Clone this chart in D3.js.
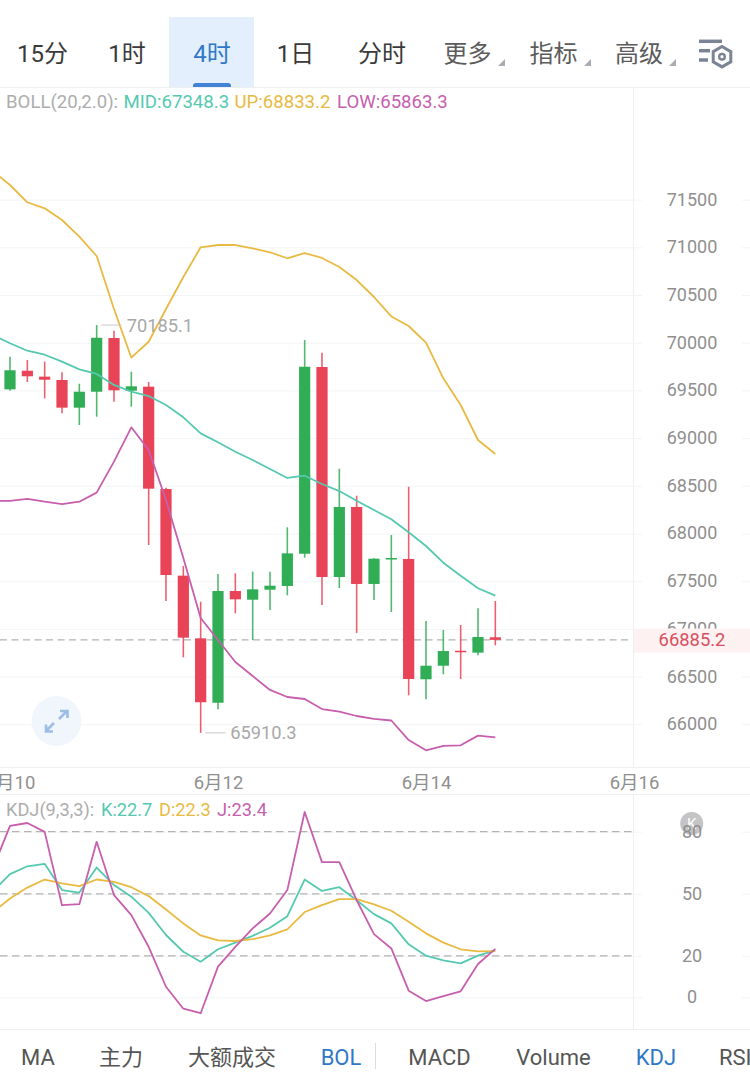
<!DOCTYPE html>
<html>
<head>
<meta charset="utf-8">
<style>
	html, body { margin: 0; padding: 0; background: #fff; }
	svg { display: block; }
	text { font-family: Roboto, "Noto Sans CJK SC", sans-serif; }
</style>
</head>
<body>
<div id="box"></div>
<script src="https://cdn.jsdelivr.net/npm/d3@7/dist/d3.min.js"></script>
<script>
// candles, 4h, index 0 = 6月10
const open = [69511, 69706, 69644, 69609, 69319, 69486, 70049, 69497, 69539, 68466, 67558, 66901, 66226, 67397, 67306, 67411, 67450, 67788, 69745, 67544, 68278, 67471, 67730, 67733, 66472, 66614, 66771, 66751, 66912];
const close = [69711, 69648, 69612, 69319, 69486, 70052, 69501, 69543, 68470, 67565, 66908, 66231, 67397, 67310, 67415, 67453, 67792, 69748, 67544, 68278, 67471, 67736, 67743, 66475, 66614, 66768, 66758, 66915, 66885.2];
const high = [69853, 69819, 69801, 69690, 69570, 70185.1, 70126, 69696, 69588, 68480, 67659, 67285, 67575, 67583, 67600, 67600, 68065, 70028, 69895, 68679, 68396, 67740, 67984, 68490, 67083, 66988, 67041, 67216, 67292];
const low = [69497, 69588, 69417, 69260, 69137, 69224, 69382, 69329, 67879, 67292, 66702, 65910.3, 66157, 67163, 66884, 67198, 67352, 67746, 67250, 67429, 66957, 67303, 67177, 66304, 66262, 66524, 66475, 66723, 66828];

// indicator series start one candle before the left edge (index -1)
const bollUp = [71800, 71653, 71472, 71409, 71286, 71111, 70909, 70353, 69843, 70010, 70353, 70689, 71000, 71024, 71024, 70989, 70948, 70885, 70940, 70888, 70793, 70657, 70479, 70275, 70175, 70000, 69627, 69347, 68980, 68833.2];
const bollMid = [70081, 69994, 69916, 69874, 69801, 69721, 69672, 69557, 69486, 69441, 69347, 69218, 69050, 68956, 68857, 68770, 68676, 68582, 68606, 68519, 68445, 68344, 68246, 68149, 68013, 67869, 67694, 67558, 67426, 67348.3];
const bollLow = [68341, 68341, 68362, 68333, 68309, 68333, 68428, 68753, 69113, 68875, 68351, 67743, 67114, 66884, 66653, 66506, 66360, 66286, 66265, 66160, 66134, 66087, 66056, 66040, 65835, 65727, 65773, 65780, 65881, 65863.3];

const kdjK = [51, 59.5, 63.3, 64.5, 51.8, 50.6, 62.7, 54.2, 48.6, 40.8, 30.1, 22, 17.2, 23.2, 26.4, 29.7, 33.6, 39.2, 56.9, 51.4, 53.2, 46.9, 40.2, 35.7, 25.6, 20.1, 17.8, 16.4, 20.1, 22.7];
const kdjD = [41, 47.7, 53, 56.9, 55, 53.7, 56.9, 55.8, 53.2, 48.9, 42.4, 35.7, 29.9, 27.5, 27.2, 28.1, 29.9, 32.8, 41.2, 44.5, 47.4, 47.4, 44.9, 41.8, 36.5, 30.9, 26.4, 23.2, 22.2, 22.3];
const kdjJ = [62, 82.8, 84.2, 79.9, 44.5, 45, 75.1, 49.4, 39.7, 24.4, 5.1, -5.5, -7.7, 14.8, 24.4, 33.3, 40.5, 51.8, 89.5, 65.3, 65.3, 46.9, 30.5, 23.6, 3.2, -1.8, 0.6, 2.9, 16.1, 23.4];

const priceTicks = [66000, 66500, 67000, 67500, 68000, 68500, 69000, 69500, 70000, 70500, 71000, 71500];
const kdjTicks = [0, 20, 50, 80];
const kdjDashed = [20, 50, 80];
const dateIndex = [0, 12, 24, 36];
const dateLabels = ['6月10', '6月12', '6月14', '6月16'];
const lastPrice = 66885.2;

const topTabs = ['15分', '1时', '4时', '1日', '分时', '更多', '指标', '高级'];
const bottomTabs = ['MA', '主力', '大额成交', 'BOL', 'MACD', 'Volume', 'KDJ', 'RSI'];
const bollLegend = ['BOLL(20,2.0):', 'MID:67348.3', 'UP:68833.2', 'LOW:65863.3'];
const kdjLegend = ['KDJ(9,3,3):', 'K:22.7', 'D:22.3', 'J:23.4'];

const green = '#31ad56';
const red = '#e84356';
const teal = '#55c9b0';
const yellow = '#e9ba42';
const pink = '#c75fae';
const blue = '#2f78c8';
const axisGray = '#8f8f8f';
const gridColor = '#f3f4f6';

const width = 750;
const height = 1090;

const svg = d3.select('#box').append('svg')
	.attr('width', width)
	.attr('height', height)
	.attr('viewBox', [0, 0, width, height]);

const x = d3.scaleLinear([0, 36], [10, 634]);
const y = d3.scaleLinear([66000, 71500], [724.3, 199.6]);
const yKdj = d3.scaleLinear([0, 80], [997.3, 831.7]);

// tabs
const topTabX = [42.5, 127, 212, 295.5, 382, 467.5, 553.5, 639];
svg.append('rect').attr('x', 169).attr('y', 17).attr('width', 85).attr('height', 71).attr('fill', '#e3effc');
svg.append('path').attr('d', 'M193,88v-2a3,3 0 0 1 3,-3h32a3,3 0 0 1 3,3v2z').attr('fill', '#3f82d6');
svg.append('g').selectAll('text').data(topTabs).join('text')
	.attr('x', (_, i) => topTabX[i])
	.attr('y', 62)
	.attr('text-anchor', 'middle')
	.attr('font-size', 24)
	.attr('fill', (_, i) => i === 2 ? blue : i > 4 ? '#5c5c5c' : '#3a3a3a')
	.text(d => d);
for (const tx of [505, 591, 676]) {
	svg.append('path').attr('d', `M${tx},59v7h-7z`).attr('fill', '#a9adb3');
}

// settings icon
const iconColor = '#7b8494';
[[699, 41.3, 23], [699, 50.7, 11], [699, 60, 9]].forEach(([ix, iy, iw]) => {
	svg.append('line').attr('x1', ix).attr('x2', ix + iw).attr('y1', iy).attr('y2', iy)
		.attr('stroke', iconColor).attr('stroke-width', 3.5);
});
svg.append('path')
	.attr('d', 'M722,46.5l8.8,5.1v10.2l-8.8,5.1l-8.8,-5.1v-10.2z')
	.attr('fill', '#fff').attr('stroke', iconColor).attr('stroke-width', 3);
svg.append('circle').attr('cx', 722).attr('cy', 56.7).attr('r', 2.8)
	.attr('fill', 'none').attr('stroke', iconColor).attr('stroke-width', 2.4);

// frame lines
const frameColor = '#eeeff1';
[[0, 750, 87.5, 87.5], [0, 750, 767.5, 767.5], [0, 750, 794.5, 794.5], [0, 750, 1029.5, 1029.5], [633.5, 633.5, 88, 767], [633.5, 633.5, 795, 1029]].forEach(([x1, x2, y1, y2]) => {
	svg.append('line').attr('x1', x1).attr('x2', x2).attr('y1', y1).attr('y2', y2)
		.attr('stroke', frameColor).attr('stroke-width', 1);
});

function drawYAxis(scale, ticks) {
	const g = svg.append('g')
		.attr('transform', 'translate(692,0)')
		.call(d3.axisRight(scale).tickValues(ticks).tickSize(0).tickFormat(d3.format('d')))
		.call(a => a.select('.domain').remove());
	g.selectAll('.tick text')
		.attr('x', 0)
		.attr('dy', '0.3em')
		.attr('text-anchor', 'middle')
		.attr('font-size', 18)
		.attr('font-family', 'Roboto, sans-serif')
		.attr('fill', axisGray);
	g.selectAll('.tick').append('line')
		.attr('x1', -692).attr('x2', -50)
		.attr('stroke', gridColor);
	g.selectAll('.tick').append('line')
		.attr('x1', 50).attr('x2', 58)
		.attr('stroke', gridColor);
	return g;
}

// price axis and dates
drawYAxis(y, priceTicks);

const xAxis = svg.append('g')
	.attr('transform', 'translate(0,789)')
	.call(d3.axisBottom(x).tickValues(dateIndex).tickSize(0).tickFormat((_, i) => dateLabels[i]))
	.call(a => a.select('.domain').remove());
xAxis.selectAll('.tick text')
	.attr('y', 0)
	.attr('dy', 0)
	.attr('font-size', 18.5)
	.attr('font-family', 'Roboto, "Noto Sans CJK SC", sans-serif')
	.attr('fill', axisGray);

// last price
svg.append('line')
	.attr('x1', 0).attr('x2', 632)
	.attr('y1', y(lastPrice)).attr('y2', y(lastPrice))
	.attr('stroke', '#b3b3b3').attr('stroke-width', 1.2).attr('stroke-dasharray', '7,4.5');
svg.append('rect').attr('x', 634).attr('y', 628.5).attr('width', 116).attr('height', 24).attr('fill', '#fdf1f1');
svg.append('text').attr('x', 692).attr('y', y(lastPrice) + 6.5)
	.attr('text-anchor', 'middle').attr('font-size', 18.4).attr('fill', '#d8505f')
	.text(d3.format('.1f')(lastPrice));

// candles
const candleIdx = d3.range(open.length);
const candles = svg.append('g').selectAll('g').data(candleIdx).join('g');
const candleColor = i => close[i] >= open[i] ? green : red;
candles.append('line')
	.attr('x1', i => x(i)).attr('x2', i => x(i))
	.attr('y1', i => y(high[i])).attr('y2', i => y(low[i]))
	.attr('stroke', candleColor).attr('stroke-width', 1.6).attr('stroke-opacity', 0.85);
candles.append('rect')
	.attr('x', i => x(i) - 5.6)
	.attr('width', 11.2)
	.attr('y', i => y(Math.max(open[i], close[i])))
	.attr('height', i => Math.max(1.5, Math.abs(y(open[i]) - y(close[i]))))
	.attr('fill', candleColor);

function drawSeries(values, scale, color) {
	const line = d3.line()
		.x((_, i) => x(i - 1))
		.y(d => scale(d));
	svg.append('path')
		.attr('fill', 'none')
		.attr('stroke', color)
		.attr('stroke-width', 1.8)
		.attr('stroke-linejoin', 'round')
		.attr('d', line(values));
}

drawSeries(bollUp, y, yellow);
drawSeries(bollMid, y, teal);
drawSeries(bollLow, y, pink);

// high and low callouts
const highIdx = d3.maxIndex(high);
const lowIdx = d3.minIndex(low);
svg.append('line').attr('x1', x(highIdx) + 4.5).attr('x2', x(highIdx) + 25)
	.attr('y1', y(high[highIdx])).attr('y2', y(high[highIdx])).attr('stroke', '#c9c9c9');
svg.append('text').attr('x', x(highIdx) + 30).attr('y', y(high[highIdx]) + 6.5)
	.attr('font-size', 18.3).attr('fill', '#a8a8a8').text(d3.format('.1f')(high[highIdx]));
svg.append('line').attr('x1', x(lowIdx) + 4.5).attr('x2', x(lowIdx) + 25)
	.attr('y1', y(low[lowIdx])).attr('y2', y(low[lowIdx])).attr('stroke', '#c9c9c9');
svg.append('text').attr('x', x(lowIdx) + 29.5).attr('y', y(low[lowIdx]) + 6.5)
	.attr('font-size', 18.3).attr('fill', '#a8a8a8').text(d3.format('.1f')(low[lowIdx]));

// expand button
svg.append('circle').attr('cx', 56.5).attr('cy', 721).attr('r', 25).attr('fill', '#eef3fc').attr('fill-opacity', 0.85);
svg.append('path')
	.attr('d', 'M46,731L54,723M46,724.5V731.5H53M67,711L59,719M60,711H67.5V718')
	.attr('fill', 'none').attr('stroke', '#9dbce6').attr('stroke-width', 2.6);

// legends
const bollLegendX = [6, 123.5, 234.5, 337];
const legendColors = ['#adadad', teal, yellow, pink];
svg.append('g').selectAll('text').data(bollLegend).join('text')
	.attr('x', (_, i) => bollLegendX[i]).attr('y', 107.5)
	.attr('font-size', 18.6).attr('fill', (_, i) => legendColors[i]).text(d => d);
const kdjLegendX = [6, 101, 159, 217];
svg.append('g').selectAll('text').data(kdjLegend).join('text')
	.attr('x', (_, i) => kdjLegendX[i]).attr('y', 815.5)
	.attr('font-size', 18.2).attr('fill', (_, i) => legendColors[i]).text(d => d);

// kdj panel
svg.append('circle').attr('cx', 691.7).attr('cy', 823.5).attr('r', 11.5).attr('fill', '#c4c4c6');
svg.append('text').attr('x', 691.7).attr('y', 829).attr('text-anchor', 'middle').attr('font-size', 15).attr('fill', '#fff').text('K');
drawYAxis(yKdj, kdjTicks);
svg.append('g').selectAll('line').data(kdjDashed).join('line')
	.attr('x1', 0).attr('x2', 632)
	.attr('y1', d => yKdj(d)).attr('y2', d => yKdj(d))
	.attr('stroke', '#b3b3b3').attr('stroke-width', 1.2).attr('stroke-dasharray', '7.5,4.5');
drawSeries(kdjK, yKdj, teal);
drawSeries(kdjD, yKdj, yellow);
drawSeries(kdjJ, yKdj, pink);

// bottom tabs
const bottomTabX = [38, 121, 232, 341, 439.5, 553.5, 656, 719];
svg.append('g').selectAll('text').data(bottomTabs).join('text')
	.attr('x', (_, i) => bottomTabX[i]).attr('y', 1065)
	.attr('text-anchor', (_, i) => i === 7 ? 'start' : 'middle')
	.attr('font-size', 22)
	.attr('fill', (_, i) => i === 3 || i === 6 ? blue : '#555')
	.text(d => d);
svg.append('line').attr('x1', 375.5).attr('x2', 375.5).attr('y1', 1043).attr('y2', 1069).attr('stroke', '#dcdcdc');
</script>
</body>
</html>
